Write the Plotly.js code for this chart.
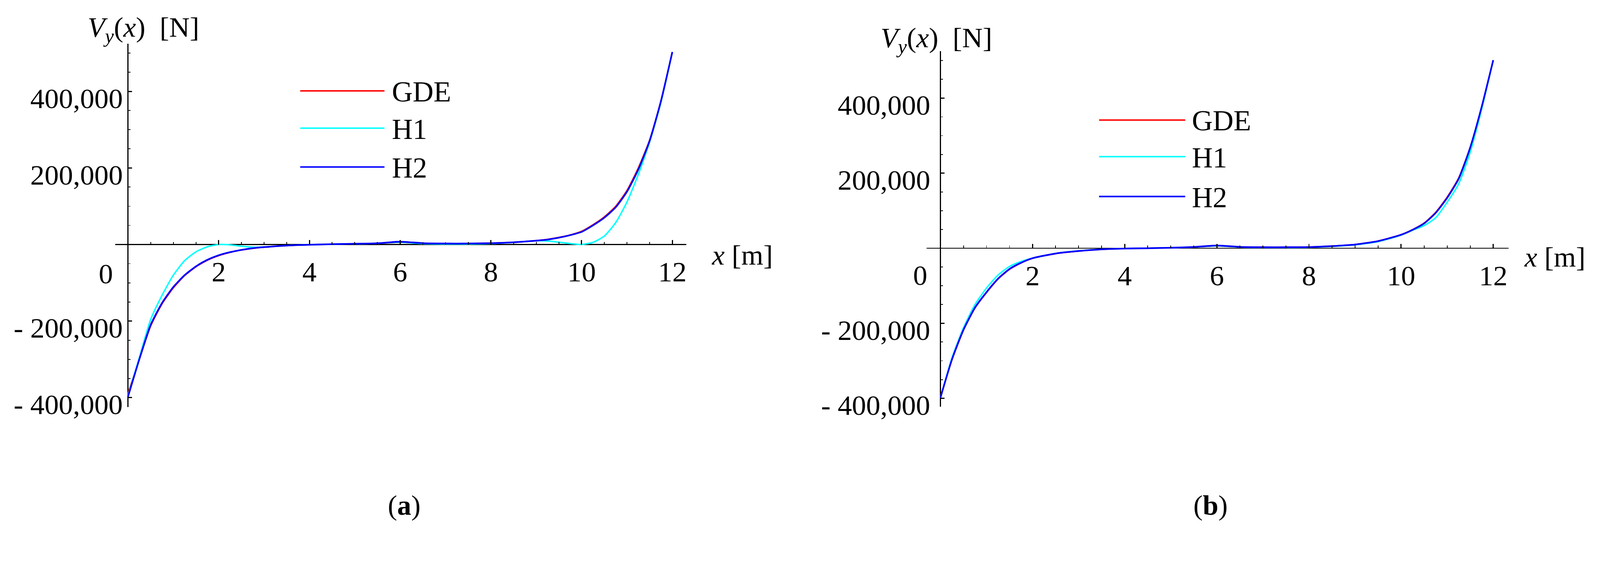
<!DOCTYPE html>
<html>
<head>
<meta charset="utf-8">
<script src="https://cdn.plot.ly/plotly-3.0.1.min.js"></script>
<style>
  html, body { margin: 0; padding: 0; background: #fff; overflow: hidden; }
  #chart { width: 4328px; height: 1440px; transform-origin: 0 0; }
</style>
</head>
<body>
<div id="chart"></div>
<script>
// Vy(x) shear force, panel (a) and panel (b)
const xA = [0, 0.25, 0.5, 0.75, 1, 1.25, 1.5, 1.75, 2, 2.25, 2.5, 2.75, 3, 3.5, 4, 4.5, 5, 5.5, 6, 6.5, 7, 7.5, 8, 8.5, 9, 9.25, 9.5, 9.75, 10, 10.25, 10.5, 10.75, 11, 11.25, 11.5, 11.75, 12];
const gdeA = [-390000, -300000, -213000, -155000, -113000, -81000, -58000, -41000, -29000, -20500, -14500, -10000, -7000, -2800, -600, 700, 1800, 2900, 5800, 3000, 2400, 2400, 3400, 5800, 10000, 13500, 18500, 25000, 34500, 51500, 72000, 99500, 141000, 200000, 273000, 376000, 503000];
const h1A = [-395000, -296000, -196000, -133000, -80000, -42000, -19000, -6000, 0, -800, -4500, -6800, -6800, -2600, -500, 700, 1800, 3000, 6000, 2200, 1200, 1200, 2500, 5500, 9800, 9200, 6000, 2500, 0, 5500, 22000, 57000, 111000, 183000, 268000, 372000, 503000];
const h2A = [-398000, -300000, -210000, -153000, -111000, -80000, -57000, -40000, -28000, -20000, -14000, -9500, -6800, -2600, -500, 800, 2000, 3200, 7400, 3500, 2600, 2600, 3500, 5800, 10000, 13000, 18000, 24500, 33000, 50000, 70000, 97000, 138000, 196000, 271000, 375000, 503000];

const xB = [0, 0.25, 0.5, 0.75, 1, 1.25, 1.5, 1.75, 2, 2.5, 3, 3.5, 4, 4.5, 5, 5.5, 6, 6.5, 7, 7.5, 8, 8.5, 9, 9.5, 10, 10.25, 10.5, 10.75, 11, 11.25, 11.5, 11.75, 12];
const gdeB = [-396000, -297000, -218000, -159000, -118000, -82000, -56000, -39000, -27000, -14300, -7600, -3000, -1000, 0, 1200, 3000, 6500, 3300, 2500, 2500, 3000, 5600, 9800, 19000, 36000, 49500, 67000, 95500, 136000, 187000, 269000, 377000, 501000];
const h1B = [-398000, -292000, -212000, -150000, -106000, -71500, -48500, -35400, -26600, -14000, -7000, -2800, -900, 0, 1200, 3000, 6500, 3000, 2000, 2000, 2500, 5000, 9000, 17500, 35000, 48000, 60300, 81000, 122500, 171500, 256000, 371000, 501000];
const h2B = [-398000, -296000, -217000, -158000, -117000, -81000, -55000, -38700, -26600, -14100, -7500, -3000, -1000, 0, 1300, 3300, 7200, 3600, 2600, 2600, 3000, 5600, 9800, 18900, 35800, 49000, 66000, 94000, 134000, 185000, 268000, 377000, 501000];

const names = ['GDE', 'H1', 'H2'];
const colors = ['#ff0000', '#00ffff', '#0000ff'];
const widths = [4, 4, 4.5];

const xTicks = [2, 4, 6, 8, 10, 12];
const yTicks = [-400000, -200000, 200000, 400000];
const yTickText = ['- 400,000', '- 200,000', '200,000', '400,000'];

const W = 4328, H = 1440;
const FONT = 'Liberation Serif, Times New Roman, serif';
// pixel -> paper
const px = v => v / W;
const py = v => 1 - v / H;

// fit the 4328x1440 drawing into whatever viewport we actually get
const k = Math.min(window.innerWidth / W, window.innerHeight / H) || 1;
if (Math.abs(k - 1) > 0.002) {
    document.getElementById('chart').style.transform = 'scale(' + k + ')';
}

function series(xs, ys, i, xa, ya) {
    return {
        x: xs, y: ys, xaxis: xa, yaxis: ya,
        type: 'scatter', mode: 'lines', name: names[i],
        line: { color: colors[i], width: widths[i], shape: 'spline', smoothing: 0.6 },
        showlegend: false, hoverinfo: 'skip'
    };
}

const data = [
    series(xA, gdeA, 0, 'x', 'y'),
    series(xA, h1A, 1, 'x', 'y'),
    series(xA, h2A, 2, 'x', 'y'),
    series(xB, gdeB, 0, 'x2', 'y2'),
    series(xB, h1B, 1, 'x2', 'y2'),
    series(xB, h2B, 2, 'x2', 'y2'),
];

function xAxis(left, right, range, zeroY) {
    return {
        domain: [px(left), px(right)], range: range,
        anchor: 'free', position: py(zeroY),
        showgrid: false, showline: false,
        zeroline: true, zerolinecolor: 'black', zerolinewidth: 3,
        ticks: 'inside', ticklen: 12, tickwidth: 3, tickcolor: 'black',
        tickmode: 'array', tickvals: xTicks, ticktext: xTicks.map(String),
        tickfont: { family: FONT, size: 77, color: 'black' },
        ticklabelstandoff: 22,
        minor: { tickmode: 'linear', tick0: 0, dtick: 0.5, ticks: 'inside', ticklen: 7, tickwidth: 2, tickcolor: 'black' },
        fixedrange: true
    };
}

function yAxis(top, bottom, range, zeroX) {
    return {
        domain: [py(bottom), py(top)], range: range,
        anchor: 'free', position: px(zeroX),
        showgrid: false, showline: false,
        zeroline: true, zerolinecolor: 'black', zerolinewidth: 3,
        ticks: 'inside', ticklen: 10, tickwidth: 3, tickcolor: 'black',
        tickmode: 'array', tickvals: yTicks,
        showticklabels: false, // labels hang under their ticks, see annotations
        minor: { tickmode: 'linear', tick0: 0, dtick: 50000, ticks: 'inside', ticklen: 6, tickwidth: 2, tickcolor: 'black' },
        fixedrange: true
    };
}

// legend keys drawn as long lines + labels
const legendA = { x0: 812, x1: 1040, tx: 1058, ys: [246, 347, 452] };
const legendB = { x0: 2973, x1: 3206, tx: 3222, ys: [325, 424, 532] };

const shapes = [];
const annotations = [];
[legendA, legendB].forEach(lg => {
    names.forEach((nm, i) => {
        shapes.push({
            type: 'line', xref: 'paper', yref: 'paper',
            x0: px(lg.x0), x1: px(lg.x1), y0: py(lg.ys[i]), y1: py(lg.ys[i]),
            line: { color: colors[i], width: 4 }
        });
        annotations.push({
            xref: 'paper', yref: 'paper', x: px(lg.tx), y: py(lg.ys[i] + 2),
            xanchor: 'left', yanchor: 'middle', showarrow: false,
            text: nm, font: { family: FONT, size: 78, color: 'black' }
        });
    });
});

// y tick labels (Maple style: top of the number level with the tick)
[{ xr: 'x', yr: 'y', dx: -12 }, { xr: 'x2', yr: 'y2', dx: -26 }].forEach(p => {
    yTicks.forEach((v, i) => annotations.push({
        xref: p.xr, yref: p.yr, x: 0, y: v,
        xanchor: 'right', yanchor: 'top', xshift: p.dx, yshift: 26,
        showarrow: false, text: yTickText[i],
        font: { family: FONT, size: 77, color: 'black' }
    }));
});

// origin label
annotations.push({ xref: 'x', yref: 'y', x: 0, y: 0, xanchor: 'right', yanchor: 'top', xshift: -38, yshift: -34,
    showarrow: false, text: '0', font: { family: FONT, size: 77, color: 'black' } });
annotations.push({ xref: 'x2', yref: 'y2', x: 0, y: 0, xanchor: 'right', yanchor: 'top', xshift: -33, yshift: -28,
    showarrow: false, text: '0', font: { family: FONT, size: 77, color: 'black' } });

const yTitle = '<i>V</i><sub><i>y</i></sub>(<i>x</i>)\u00a0 [N]';
const xTitle = '<i>x</i> [m]';
[
    { x: 235, y: 78, t: yTitle },
    { x: 2380, y: 108, t: yTitle },
    { x: 1923, y: 690, t: xTitle },
    { x: 4121, y: 696, t: xTitle },
].forEach(a => annotations.push({
    xref: 'paper', yref: 'paper', x: px(a.x), y: py(a.y),
    xanchor: 'left', yanchor: 'middle', showarrow: false,
    text: a.t, font: { family: FONT, size: 77, color: 'black' }
}));

// captions
[{ x: 1093, t: '(<b>a</b>)' }, { x: 3275, t: '(<b>b</b>)' }].forEach(c => annotations.push({
    xref: 'paper', yref: 'paper', x: px(c.x), y: py(1368),
    xanchor: 'center', yanchor: 'middle', showarrow: false,
    text: c.t, font: { family: FONT, size: 76, color: 'black' }
}));

const layout = {
    width: W, height: H,
    margin: { l: 0, r: 0, t: 0, b: 0, pad: 0 },
    paper_bgcolor: 'white', plot_bgcolor: 'white',
    showlegend: false,
    xaxis: xAxis(311.8, 1856.7, [-0.28, 12.31], 662),
    yaxis: yAxis(118.1, 1102.3, [-425000, 525000], 346.4),
    xaxis2: xAxis(2506, 4080.3, [-0.305, 12.33], 672),
    yaxis2: yAxis(138.6, 1100.8, [-422000, 525000], 2544),
    shapes: shapes,
    annotations: annotations
};

Plotly.newPlot('chart', data, layout, { staticPlot: true, displayModeBar: false });
</script>
</body>
</html>
